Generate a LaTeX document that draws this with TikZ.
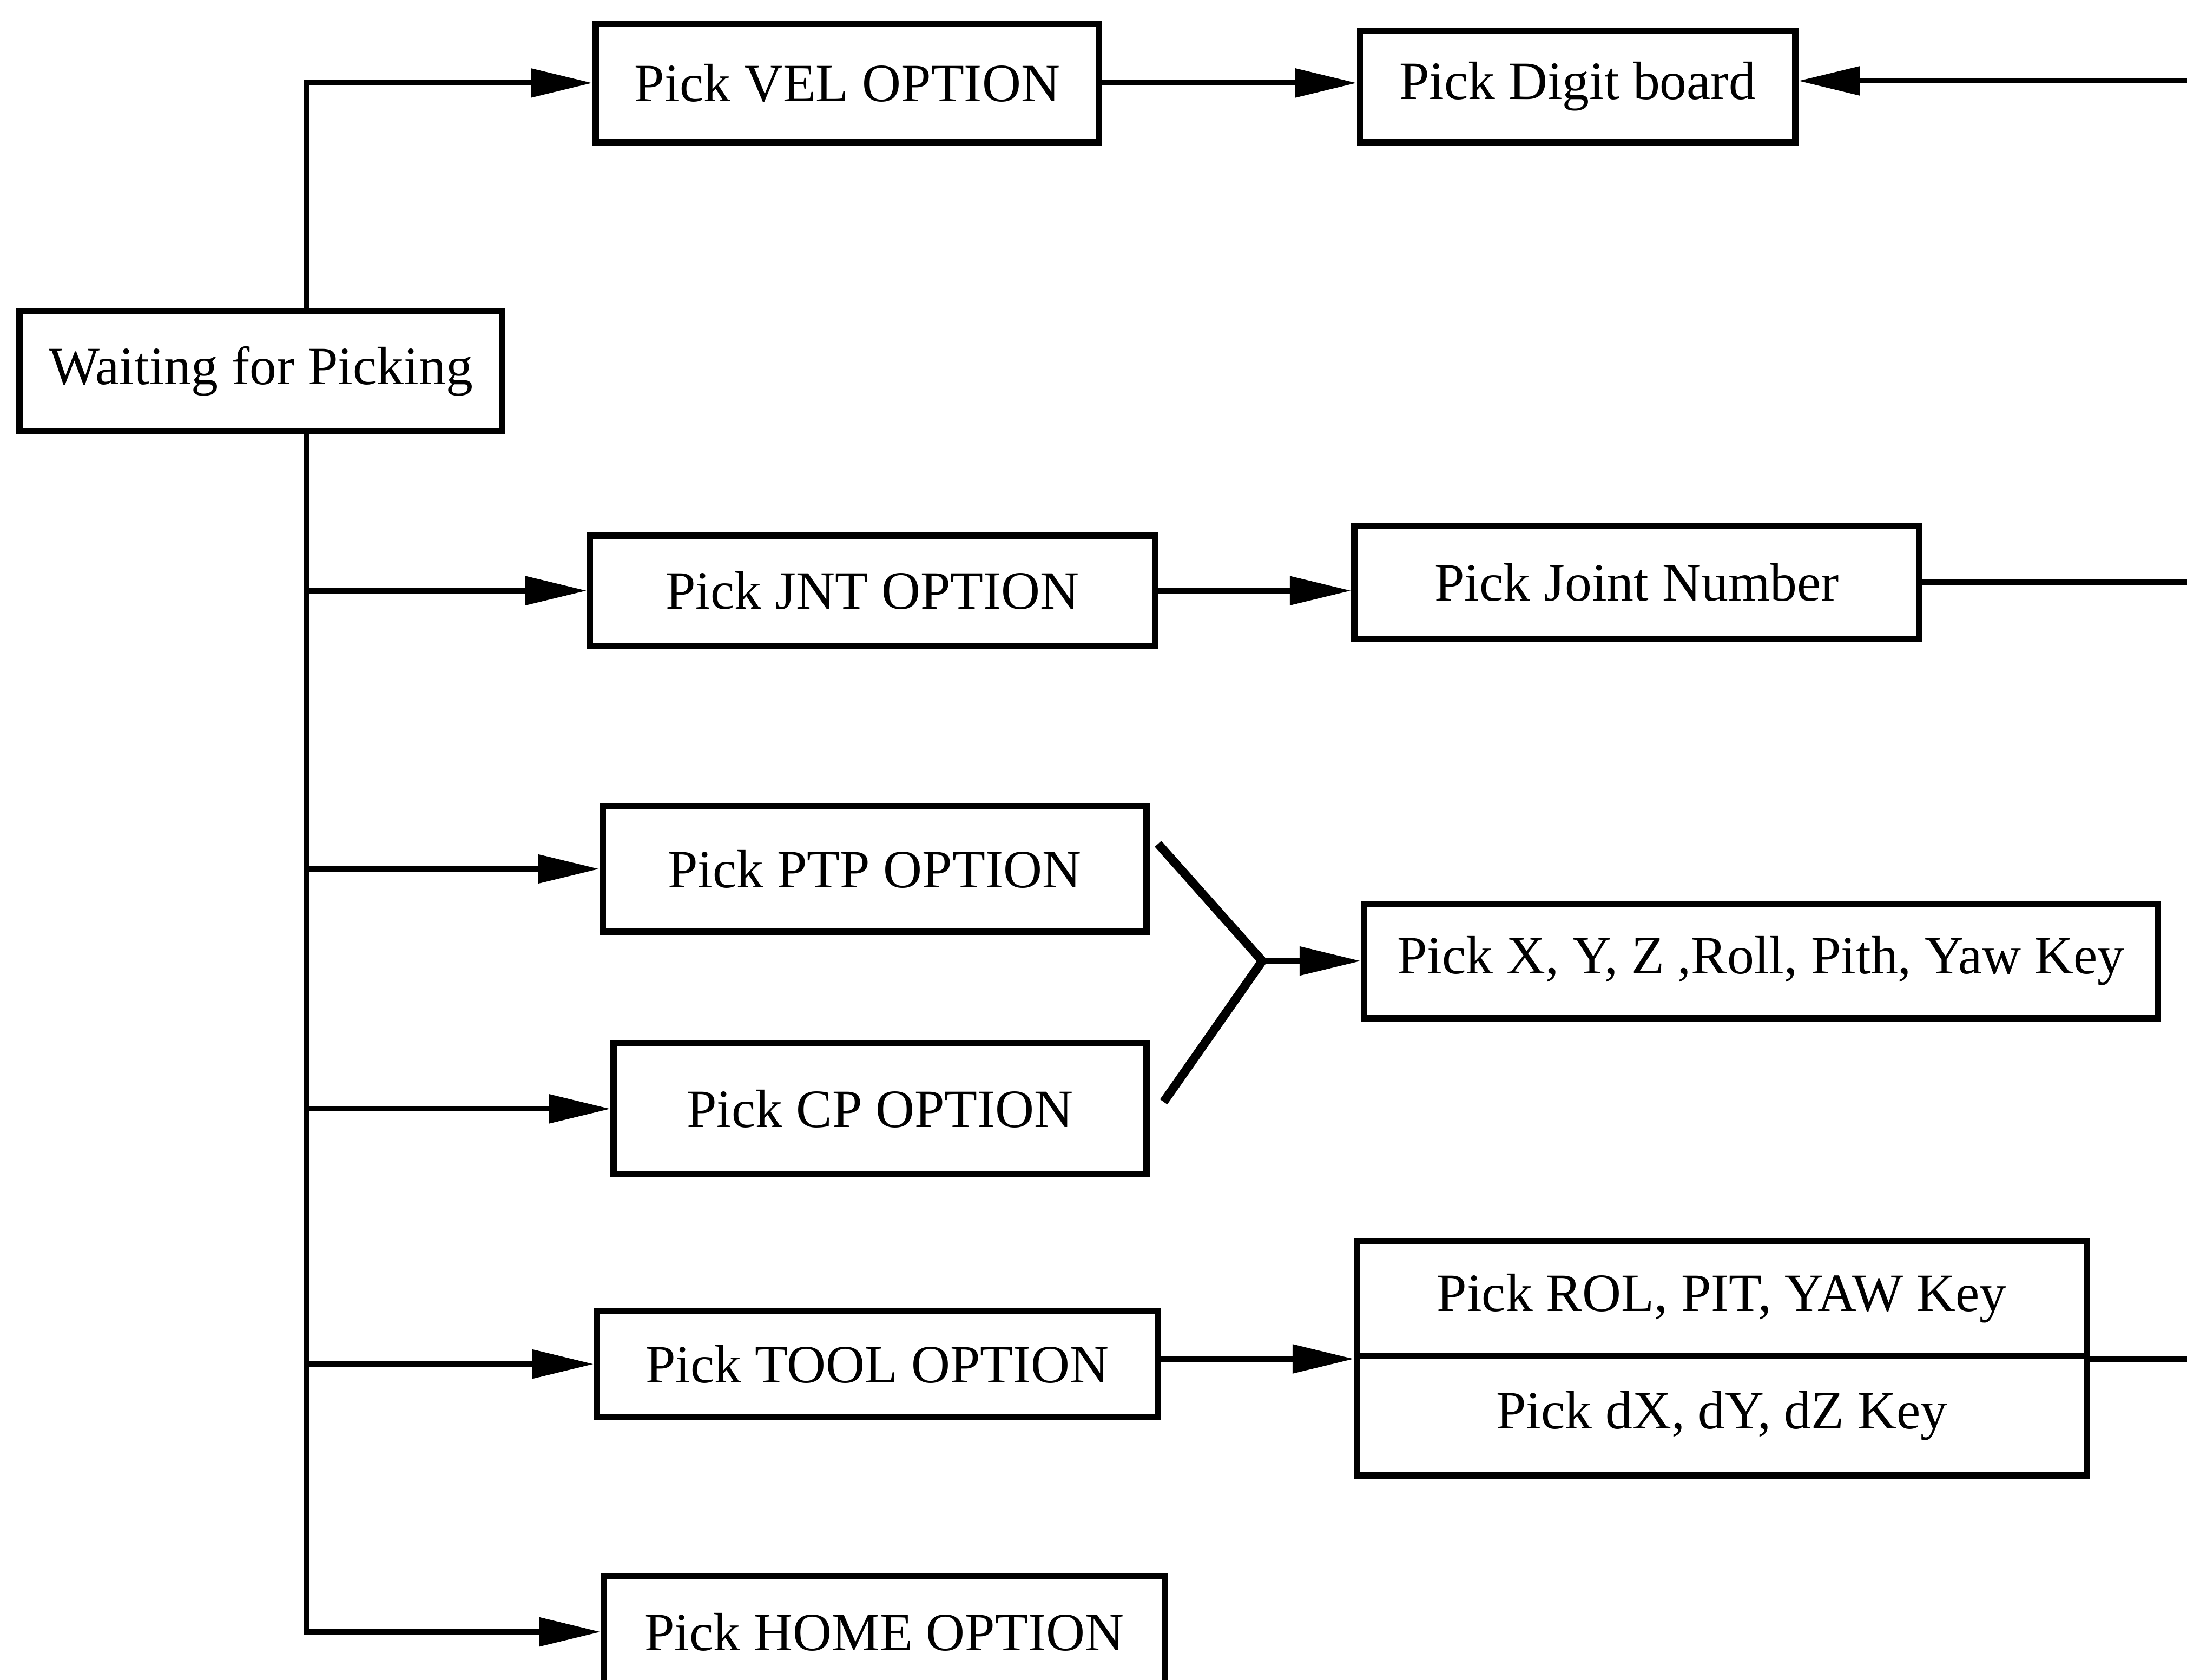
\documentclass[tikz,border=0pt]{standalone}
\usepackage{fontspec}
\setmainfont{Liberation Serif}
\usetikzlibrary{arrows.meta}

\begin{document}
\begin{tikzpicture}[box/.style={draw, line width=1.3pt, inner sep=0pt, font=\fontsize{11}{13}\selectfont},
                    link/.style={line width=1.1pt},
                    tip/.style={-{Triangle[length=0.44cm, width=0.2cm]}}]
        \useasboundingbox (0,0) rectangle (15.68,-12.045);
        \clip (0,0) rectangle (15.68,-12.045);

        % Boxes, placed at their centres
        \node[box, minimum width=3.46cm, minimum height=0.86cm] (wait)  at (1.87,-2.66)   {Waiting for Picking};
        \node[box, minimum width=3.61cm, minimum height=0.85cm] (vel)   at (6.075,-0.595) {Pick VEL OPTION};
        \node[box, minimum width=3.12cm, minimum height=0.80cm] (digit) at (11.31,-0.62)  {Pick Digit board};
        \node[box, minimum width=4.05cm, minimum height=0.79cm] (jnt)   at (6.255,-4.235) {Pick JNT OPTION};
        \node[box, minimum width=4.05cm, minimum height=0.81cm] (jnum)  at (11.735,-4.175) {Pick Joint Number};
        \node[box, minimum width=3.90cm, minimum height=0.90cm] (ptp)   at (6.27,-6.23)   {Pick PTP OPTION};
        \node[box, minimum width=3.82cm, minimum height=0.94cm] (cp)    at (6.31,-7.95)   {Pick CP OPTION};
        \node[box, minimum width=5.69cm, minimum height=0.82cm] (xyz)   at (12.625,-6.89) {Pick X, Y, Z ,Roll, Pith, Yaw Key};
        \node[box, minimum width=4.02cm, minimum height=0.76cm] (tool)  at (6.29,-9.78)   {Pick TOOL OPTION};
        \node[box, minimum width=5.23cm, minimum height=0.82cm] (rol)   at (12.345,-9.31) {Pick ROL, PIT, YAW Key};
        \node[box, minimum width=5.23cm, minimum height=0.86cm] (dxyz)  at (12.345,-10.15) {Pick dX, dY, dZ Key};
        \node[box, minimum width=4.02cm, minimum height=0.80cm] (home)  at (6.34,-11.70)  {Pick HOME OPTION};

        % Spine, right border and the Y joint
        \coordinate (spine) at (2.20,0);
        \coordinate (rim)   at (15.68,0);
        \coordinate (yj)    at (9.05,-6.89);
        \coordinate (back)  at (15.68,-0.58);

        % Spine with its branches
        \draw[link, tip] (wait.north -| spine) |- (vel);
        \draw[link, tip] (wait.south -| spine) |- (home);
        \foreach \n in {jnt, ptp, cp, tool}
            \draw[link, tip] (spine |- \n) -- (\n);

        % Second column
        \draw[link, tip] (vel) -- (vel -| digit.west);
        \draw[link, tip] (jnt) -- (jnt -| jnum.west);
        \draw[link, line width=1.8pt] ([shift={(0.06,0.18)}]ptp.east) -- (yj) -- ([shift={(0.10,0.05)}]cp.east);
        \draw[link, tip] (yj) -- (xyz);
        \draw[link, tip] (tool.east |- rol.south west) -- (rol.south west);

        % Lines running off to the right
        \draw[link, tip] (back) -- (back -| digit.east);
        \draw[link] (jnum.east) -- (jnum.east -| rim);
        \draw[link] (rol.south east) -- (rol.south east -| rim);
    \end{tikzpicture}
\end{document}
